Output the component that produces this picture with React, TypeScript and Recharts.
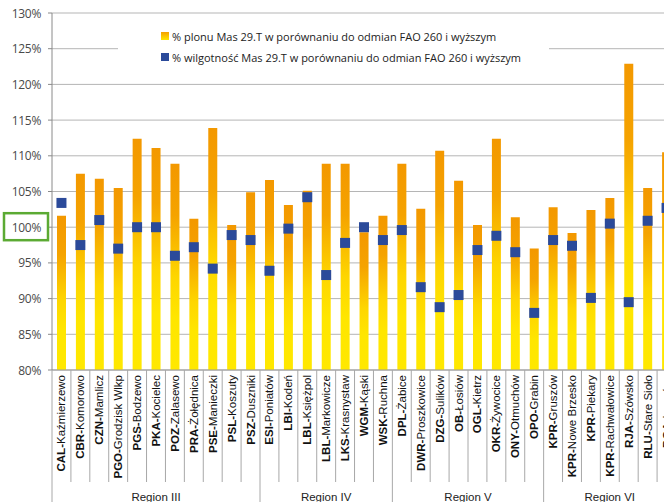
import React from "react";
import { ComposedChart, Bar, Line, XAxis, YAxis, CartesianGrid } from "recharts";

// codes (bold part) and places of the trial sites
const codes = [
  "CAL", "CBR", "CZN", "PGO", "PGS", "PKA", "POZ", "PRA", "PSE", "PSL", "PSZ",
  "ESI", "LBI", "LBL", "LBL", "LKS", "WGM", "WSK",
  "DPL", "DWR", "DZG", "OB", "OGL", "OKR", "ONY", "OPO",
  "KPR", "KPR", "KPR", "KPR", "RJA", "RLU", "BGA",
];
const places = [
  "Kaźmierzewo", "Komorowo", "Mamlicz", "Grodzisk Wlkp", "Bodzewo", "Kocielec", "Zalasewo",
  "Żołędnica", "Manieczki", "Koszuty", "Duszniki",
  "Poniatów", "Kodeń", "Księżpol", "Markowicze", "Krasnystaw", "Kąski", "Ruchna",
  "Żabice", "Proszkowice", "Sulików", "Łosiów", "Kietrz", "Żywocice", "Otmuchów", "Grabin",
  "Gruszów", "Nowe Brzesko", "Piekary", "Rachwałowice", "Szówsko", "Stare Sioło", "Łosośna",
];
// % plonu Mas 29.T vs FAO 260+
const plon = [
  101.6, 107.5, 106.8, 105.5, 112.4, 111.1, 108.9, 101.2, 113.9, 100.3, 104.9,
  106.6, 103.1, 105.1, 108.9, 108.9, 99.3, 101.6,
  108.9, 102.6, 110.7, 106.5, 100.3, 112.4, 101.4, 97.0,
  102.8, 99.2, 102.4, 104.1, 122.9, 105.5, 110.5,
];
// % wilgotność Mas 29.T vs FAO 260+
const wilgotnosc = [
  103.4, 97.5, 101.0, 97.0, 100.0, 100.0, 96.0, 97.2, 94.2, 98.9, 98.2,
  93.9, 99.8, 104.2, 93.3, 97.8, 100.0, 98.2,
  99.6, 91.6, 88.8, 90.5, 96.8, 98.8, 96.5, 88.0,
  98.2, 97.4, 90.1, 100.5, 89.5, 100.9, 102.7,
];
const regionNames = ["Region III", "Region IV", "Region V", "Region VI"];
const regionSizes = [11, 7, 8, 7];
const yTicks = [80, 85, 90, 95, 100, 105, 110, 115, 120, 125, 130];
const legendLabels = [
  "% plonu Mas 29.T w porównaniu do odmian FAO 260 i wyższym",
  "% wilgotność Mas 29.T w porównaniu do odmian FAO 260 i wyższym",
];

const data = codes.map((c, i) => ({
  name: `${c}-${places[i]}`,
  code: c,
  place: places[i],
  plon: plon[i],
  wilg: wilgotnosc[i],
}));

const regionStart: Record<number, number> = {};
{
  let s = 0;
  regionSizes.forEach((n, r) => {
    regionStart[s] = r;
    s += n;
  });
}

const CHART_W = 690;
const CHART_H = 502;
const Y_AXIS_W = 52;
const RIGHT = 14;
const BAND = (CHART_W - Y_AXIS_W - RIGHT) / codes.length;

const PercentTick = (props: any) => {
  const { x, y, payload } = props;
  return (
    <g>
      {payload.value === 100 && (
        <rect x={x - 37} y={y - 14} width={44} height={27} fill="none" stroke="#5BAA33" strokeWidth={2.5} />
      )}
      <text x={x} y={y} dy={4.5} textAnchor="end" fontFamily="Open Sans" fontSize={12} letterSpacing={-0.3} fill="#4a4a4a">
        {payload.value}%
      </text>
    </g>
  );
};

const CategoryTick = (props: any) => {
  const { x, y, index } = props;
  const d = data[index];
  const left = x - BAND / 2;
  const r = regionStart[index];
  const isLast = index === data.length - 1;
  return (
    <g>
      <line x1={left} x2={left} y1={y} y2={r !== undefined ? 502 : 482} stroke="#a8a8a8" />
      {isLast && <line x1={left + BAND} x2={left + BAND} y1={y} y2={502} stroke="#a8a8a8" />}
      <text
        x={x + 4}
        y={y + 5}
        transform={`rotate(-90, ${x + 4}, ${y + 5})`}
        textAnchor="end"
        fontFamily="Liberation Sans, Arial"
        fontSize={11.5}
        fill="#111"
      >
        <tspan fontWeight="bold">{d.code}-</tspan>
        <tspan>{d.place}</tspan>
      </text>
      {r !== undefined && (
        <text
          x={left + (regionSizes[r] * BAND) / 2}
          y={501}
          textAnchor="middle"
          fontFamily="Liberation Sans, Arial"
          fontSize={11.5}
          fill="#222"
        >
          {regionNames[r]}
        </text>
      )}
    </g>
  );
};

const renderSquare = (p: any) => (
  <rect key={`sq-${p.index}`} x={p.cx - 5} y={p.cy - 5} width={10} height={10} fill="#2B4A9A" />
);

export default function App() {
  return (
    <div style={{ position: "absolute", left: 0, top: 0, width: 664, height: 502, overflow: "hidden", background: "#fff" }}>
      <ComposedChart width={CHART_W} height={CHART_H} data={data} margin={{ top: 13, right: RIGHT, left: 0, bottom: 0 }}>
        <defs>
          <linearGradient id="plonFill" x1="0" y1="0" x2="0" y2="1">
            <stop offset="0" stopColor="#F39800" />
            <stop offset="0.25" stopColor="#F5A300" />
            <stop offset="0.55" stopColor="#FED600" />
            <stop offset="0.75" stopColor="#FFE600" />
            <stop offset="1" stopColor="#FFE800" />
          </linearGradient>
        </defs>
        <CartesianGrid vertical={false} stroke="#b5b5b5" />
        <XAxis
          dataKey="name"
          interval={0}
          height={132}
          tickLine={false}
          tickSize={0}
          tickMargin={0}
          axisLine={{ stroke: "#9a9a9a" }}
          tick={<CategoryTick />}
        />
        <YAxis
          width={Y_AXIS_W}
          domain={[80, 130]}
          ticks={yTicks}
          allowDataOverflow
          tickSize={4}
          tickMargin={7}
          axisLine={{ stroke: "#8a8a8a" }}
          tickLine={{ stroke: "#8a8a8a" }}
          tick={<PercentTick />}
        />
        <Bar dataKey="plon" barSize={9} fill="url(#plonFill)" isAnimationActive={false} />
        <Line
          dataKey="wilg"
          stroke="none"
          dot={renderSquare}
          activeDot={false}
          isAnimationActive={false}
        />
      </ComposedChart>
      <div
        style={{
          position: "absolute",
          left: 118,
          top: 22,
          width: 431,
          height: 56,
          background: "#fff",
          fontFamily: "Open Sans",
          fontSize: 11,
          color: "#222",
        }}
      >
        {legendLabels.map((t, i) => (
          <div key={t} style={{ position: "absolute", left: 43, top: 6 + i * 21, height: 16, display: "flex", alignItems: "center", whiteSpace: "nowrap" }}>
            <span
              style={{
                display: "inline-block",
                width: 8,
                height: 8,
                marginRight: 3,
                background: i === 0 ? "linear-gradient(#F5A000, #FFE600)" : "#2B4A9A",
              }}
            />
            {t}
          </div>
        ))}
      </div>
    </div>
  );
}
